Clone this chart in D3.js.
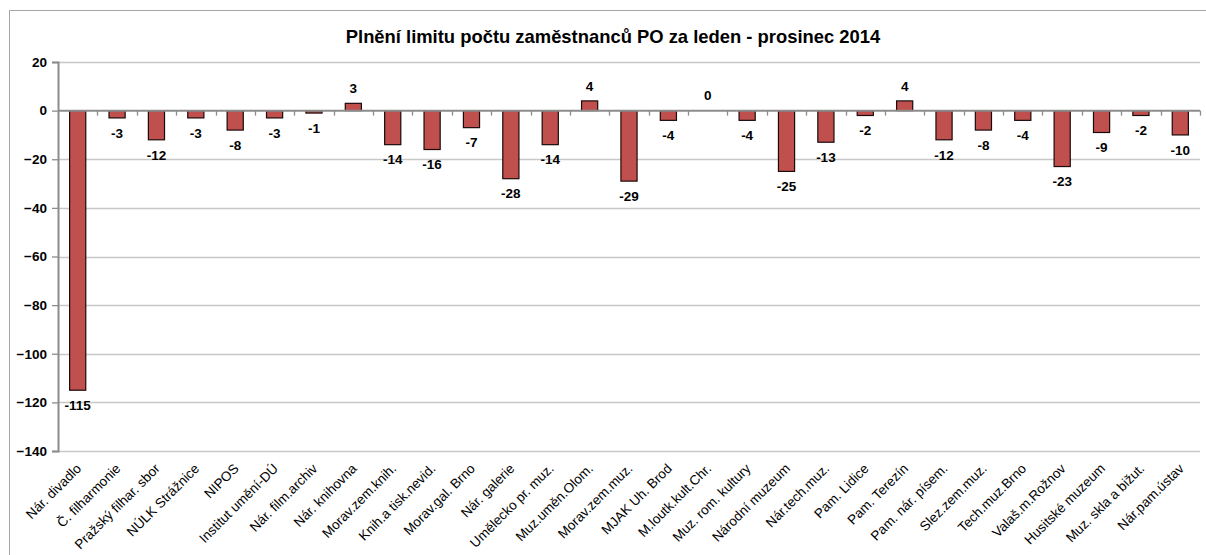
<!DOCTYPE html>
<html>
<head>
<meta charset="utf-8">
<script src="https://cdn.jsdelivr.net/npm/d3@7"></script>
<style>
  body { margin: 0; background: #fff; }
  svg { display: block; font-family: Arial, "Liberation Sans", sans-serif; }
</style>
</head>
<body>
<div id="chart"></div>
<script>
const title = "Plnění limitu počtu zaměstnanců PO za leden - prosinec 2014";

const categories = [
    "Nár. divadlo", "Č. filharmonie", "Pražský filhar. sbor", "NÚLK Strážnice", "NIPOS",
    "Institut umění-DÚ", "Nár. film.archiv", "Nár. knihovna", "Morav.zem.knih.", "Knih.a tisk.nevid.",
    "Morav.gal. Brno", "Nár. galerie", "Umělecko pr. muz.", "Muz.uměn.Olom.", "Morav.zem.muz.",
    "MJAK Uh. Brod", "M.loutk.kult.Chr.", "Muz. rom. kultury", "Národní muzeum", "Nár.tech.muz.",
    "Pam. Lidice", "Pam. Terezín", "Pam. nár. písem.", "Slez.zem.muz.", "Tech.muz.Brno",
    "Valaš.m.Rožnov", "Husitské muzeum", "Muz. skla a bižut.", "Nár.pam.ústav"
];

const values = [
    -115, -3, -12, -3, -8,
    -3, -1, 3, -14, -16,
    -7, -28, -14, 4, -29,
    -4, 0, -4, -25, -13,
    -2, 4, -12, -8, -4,
    -23, -9, -2, -10
];

const yTicks = [20, 0, -20, -40, -60, -80, -100, -120, -140];

const width = 1206, height = 555;
const plot = { left: 58, right: 1200, top: 62, bottom: 451 };

const svg = d3.select('#chart').append('svg')
    .attr('width', width)
    .attr('height', height);

// outer chart frame (only top and left edges fall inside the picture)
svg.append('rect')
    .attr('x', 9.5).attr('y', 10.5)
    .attr('width', 1220).attr('height', 600)
    .style('fill', 'none')
    .style('stroke', '#a6a6a6')
    .style('stroke-width', 1);

svg.append('text')
    .attr('x', 613).attr('y', 43)
    .attr('text-anchor', 'middle')
    .style('font-size', '18.4px')
    .style('font-weight', 'bold')
    .text(title);

const x = d3.scaleBand()
    .domain(categories)
    .range([plot.left, plot.right])
    .paddingInner(0.59)
    .paddingOuter(0.295);

const band = d3.scaleBand().domain(categories).range([plot.left, plot.right]);

const y = d3.scaleLinear()
    .domain([-140, 20])
    .range([plot.bottom, plot.top]);

// gridlines
svg.append('g')
    .selectAll('line')
    .data(yTicks.filter(d => d !== 0))
    .enter().append('line')
    .attr('x1', plot.left).attr('x2', plot.right)
    .attr('y1', d => Math.round(y(d)) + 0.5).attr('y2', d => Math.round(y(d)) + 0.5)
    .style('stroke', '#c8c8c8')
    .style('stroke-width', 1.3);

// y axis
const yAxis = svg.append('g')
    .attr('transform', `translate(${plot.left},0)`)
    .call(d3.axisLeft(y).tickValues(yTicks).tickSize(6).tickPadding(5).tickFormat(d3.format('d')));
yAxis.select('.domain').style('stroke', '#8c8c8c').style('stroke-width', 2);
yAxis.selectAll('.tick line').style('stroke', '#8c8c8c').style('stroke-width', 1.3);
yAxis.selectAll('.tick text')
    .style('font-size', '13.5px')
    .style('font-weight', 'bold')
    .style('font-family', 'Arial, "Liberation Sans", sans-serif')
    .style('fill', '#000');

// bars
svg.append('g')
    .selectAll('rect')
    .data(values)
    .enter().append('rect')
    .attr('x', (d, i) => x(categories[i]))
    .attr('width', x.bandwidth())
    .attr('y', d => y(Math.max(0, d)))
    .attr('height', d => Math.abs(y(d) - y(0)))
    .style('fill', '#c0504d')
    .style('stroke', '#1a0a0a')
    .style('stroke-width', 1.2);

// zero line with category ticks
svg.append('line')
    .attr('x1', plot.left).attr('x2', plot.right)
    .attr('y1', y(0)).attr('y2', y(0))
    .style('stroke', '#8c8c8c')
    .style('stroke-width', 2);

svg.append('g')
    .selectAll('line')
    .data(categories.slice(1).concat(['__end']))
    .enter().append('line')
    .attr('x1', (d, i) => Math.round(plot.left + band.step() * (i + 1)) + 0.5)
    .attr('x2', (d, i) => Math.round(plot.left + band.step() * (i + 1)) + 0.5)
    .attr('y1', y(0)).attr('y2', y(0) + 5)
    .style('stroke', '#8c8c8c')
    .style('stroke-width', 1.3);

// value labels
svg.append('g')
    .selectAll('text')
    .data(values)
    .enter().append('text')
    .attr('x', (d, i) => x(categories[i]) + x.bandwidth() / 2)
    .attr('y', d => d > 0 || d === 0 ? y(d) - 15 : y(d) + 15)
    .attr('dy', '0.35em')
    .attr('text-anchor', 'middle')
    .style('font-size', '13.5px')
    .style('font-weight', 'bold')
    .text(d => d);

// category labels, rotated
svg.append('g')
    .selectAll('text')
    .data(categories)
    .enter().append('text')
    .attr('transform', d => `translate(${band(d) + band.bandwidth() / 2 + 1},${466}) rotate(-45)`)
    .attr('text-anchor', 'end')
    .attr('dy', '0.35em')
    .style('font-size', '13.5px')
    .text(d => d);
</script>
</body>
</html>
